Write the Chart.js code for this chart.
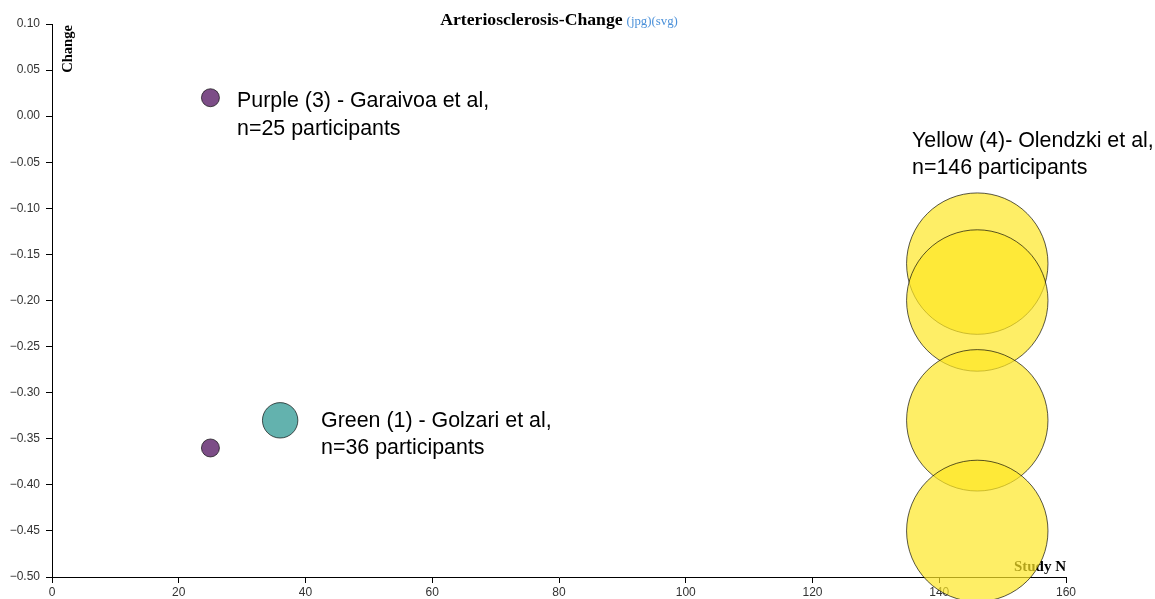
<!DOCTYPE html>
<html>
<head>
<meta charset="utf-8">
<script src="https://cdn.jsdelivr.net/npm/chart.js@4/dist/chart.umd.min.js"></script>
<style>
html,body{margin:0;padding:0;background:#fff;}
#wrap{width:1155px;height:599px;position:relative;}
</style>
</head>
<body>
<div id="wrap"><canvas id="c" width="1155" height="599"></canvas></div>
<script>
// ---- data ----
const titleText = 'Arteriosclerosis-Change';
const titleLinks = '(jpg)(svg)';
const xAxisTitle = 'Study N';
const yAxisTitle = 'Change';

const purpleN = [25, 25];
const purpleChange = [0.02, -0.36];
const purpleParticipants = [25, 25];

const greenN = [36];
const greenChange = [-0.33];
const greenParticipants = [36];

const yellowN = [146, 146, 146, 146];
const yellowChange = [-0.16, -0.20, -0.33, -0.45];
const yellowParticipants = [146, 146, 146, 146];

const xTickValues = [0, 20, 40, 60, 80, 100, 120, 140, 160];
const yTickValues = [-0.50, -0.45, -0.40, -0.35, -0.30, -0.25, -0.20, -0.15, -0.10, -0.05, 0.00, 0.05, 0.10];

const noteTexts = [
  ['Purple (3) - Garaivoa et al,', 'n=25 participants'],
  ['Green (1) - Golzari et al,', 'n=36 participants'],
  ['Yellow (4)- Olendzki et al,', 'n=146 participants']
];
// anchor of each note in data units (study N, change)
const noteAnchorX = [29.2, 42.45, 135.7];
const noteAnchorY = [0.0099, -0.3372, -0.0331];

// ---- styling / helpers ----
const allP = purpleParticipants.concat(greenParticipants, yellowParticipants);
const pMin = Math.min(...allP), pMax = Math.max(...allP);
const rMin = 9, rMax = 70.7;
function radiusFor(p){
  const t = (Math.sqrt(p) - Math.sqrt(pMin)) / (Math.sqrt(pMax) - Math.sqrt(pMin));
  return rMin + t * (rMax - rMin);
}
function pts(xs, ys, ps){ return xs.map((x,i)=>({x:x, y:ys[i], p:ps[i]})); }
const sans = "'Liberation Sans', Arial, sans-serif";
const serif = "'Liberation Serif', 'Times New Roman', serif";

const decor = {
  id: 'decor',
  beforeDatasetsDraw(chart){
    const {ctx, chartArea:a} = chart;
    ctx.save();
    ctx.fillStyle = '#000';
    ctx.font = 'bold 15px ' + serif;
    ctx.textAlign = 'right';
    ctx.textBaseline = 'alphabetic';
    ctx.fillText(xAxisTitle, a.right, a.bottom - 6);
    ctx.translate(a.left + 20, a.top + 1);
    ctx.rotate(-Math.PI/2);
    ctx.font = 'bold 14.6px ' + serif;
    ctx.textAlign = 'right';
    ctx.fillText(yAxisTitle, 0, 0);
    ctx.restore();
  },
  afterDatasetsDraw(chart){
    const {ctx, chartArea:a, scales} = chart;
    ctx.save();
    ctx.fillStyle = '#000';
    ctx.font = '21.4px ' + sans;
    ctx.textAlign = 'left';
    ctx.textBaseline = 'alphabetic';
    noteTexts.forEach((lines, i) => {
      const px = scales.x.getPixelForValue(noteAnchorX[i]);
      const py = scales.y.getPixelForValue(noteAnchorY[i]);
      lines.forEach((ln, j) => ctx.fillText(ln, px, py + j * 27.5));
    });
    // title
    ctx.font = 'bold 17.7px ' + serif;
    const w1 = ctx.measureText(titleText).width;
    ctx.font = '12.8px ' + serif;
    const w2 = ctx.measureText(titleLinks).width;
    const gap = 4;
    const total = w1 + gap + w2;
    const cx = (a.left + a.right) / 2;
    let sx = cx - total / 2;
    ctx.font = 'bold 17.7px ' + serif;
    ctx.fillStyle = '#000';
    ctx.fillText(titleText, sx, 25);
    ctx.font = '12.8px ' + serif;
    ctx.fillStyle = '#4a90d9';
    ctx.fillText(titleLinks, sx + w1 + gap, 25);
    ctx.restore();
  }
};

const common = {
  borderWidth: 1,
  borderColor: 'rgba(0,0,0,0.65)',
  radius: ctx => radiusFor(ctx.raw.p),
  hoverRadius: 0,
  clip: false
};

new Chart(document.getElementById('c'), {
  type: 'bubble',
  data: {
    datasets: [
      Object.assign({label:'Purple', data: pts(purpleN, purpleChange, purpleParticipants), backgroundColor:'rgba(68,1,84,0.7)'}, common),
      Object.assign({label:'Green', data: pts(greenN, greenChange, greenParticipants), backgroundColor:'rgba(33,145,140,0.7)'}, common),
      Object.assign({label:'Yellow', data: pts(yellowN, yellowChange, yellowParticipants), backgroundColor:'rgba(253,231,37,0.7)'}, common)
    ]
  },
  options: {
    responsive: false,
    animation: false,
    events: [],
    layout: { autoPadding: false, padding: { top: 24, right: 89, left: 0, bottom: 0 } },
    plugins: { legend: {display:false}, title:{display:false}, tooltip:{enabled:false} },
    scales: {
      x: {
        type: 'linear', min: 0, max: 160,
        afterBuildTicks: s => { s.ticks = xTickValues.map(v => ({value:v})); },
        afterFit: s => { s.height = 22; },
        grid: { display: true, drawOnChartArea: false, drawTicks: true, tickLength: 6, color: '#000', tickColor:'#000' },
        border: { display: true, color: '#000', width: 1 },
        ticks: { color: '#333', padding: 2, font: { family: sans, size: 12 }, maxRotation: 0,
          callback: v => String(v) }
      },
      y: {
        type: 'linear', min: -0.5, max: 0.1,
        afterBuildTicks: s => { s.ticks = yTickValues.map(v => ({value:v})); },
        afterFit: s => { s.width = 52; },
        grid: { display: true, drawOnChartArea: false, drawTicks: true, tickLength: 6, color: '#000', tickColor:'#000' },
        border: { display: true, color: '#000', width: 1 },
        ticks: { color: '#333', padding: 6, font: { family: sans, size: 12 },
          callback: v => { const n = Math.abs(v) < 1e-9 ? 0 : v; return n.toFixed(2).replace('-', '\u2212'); } }
      }
    }
  },
  plugins: [decor]
});
</script>
</body>
</html>
